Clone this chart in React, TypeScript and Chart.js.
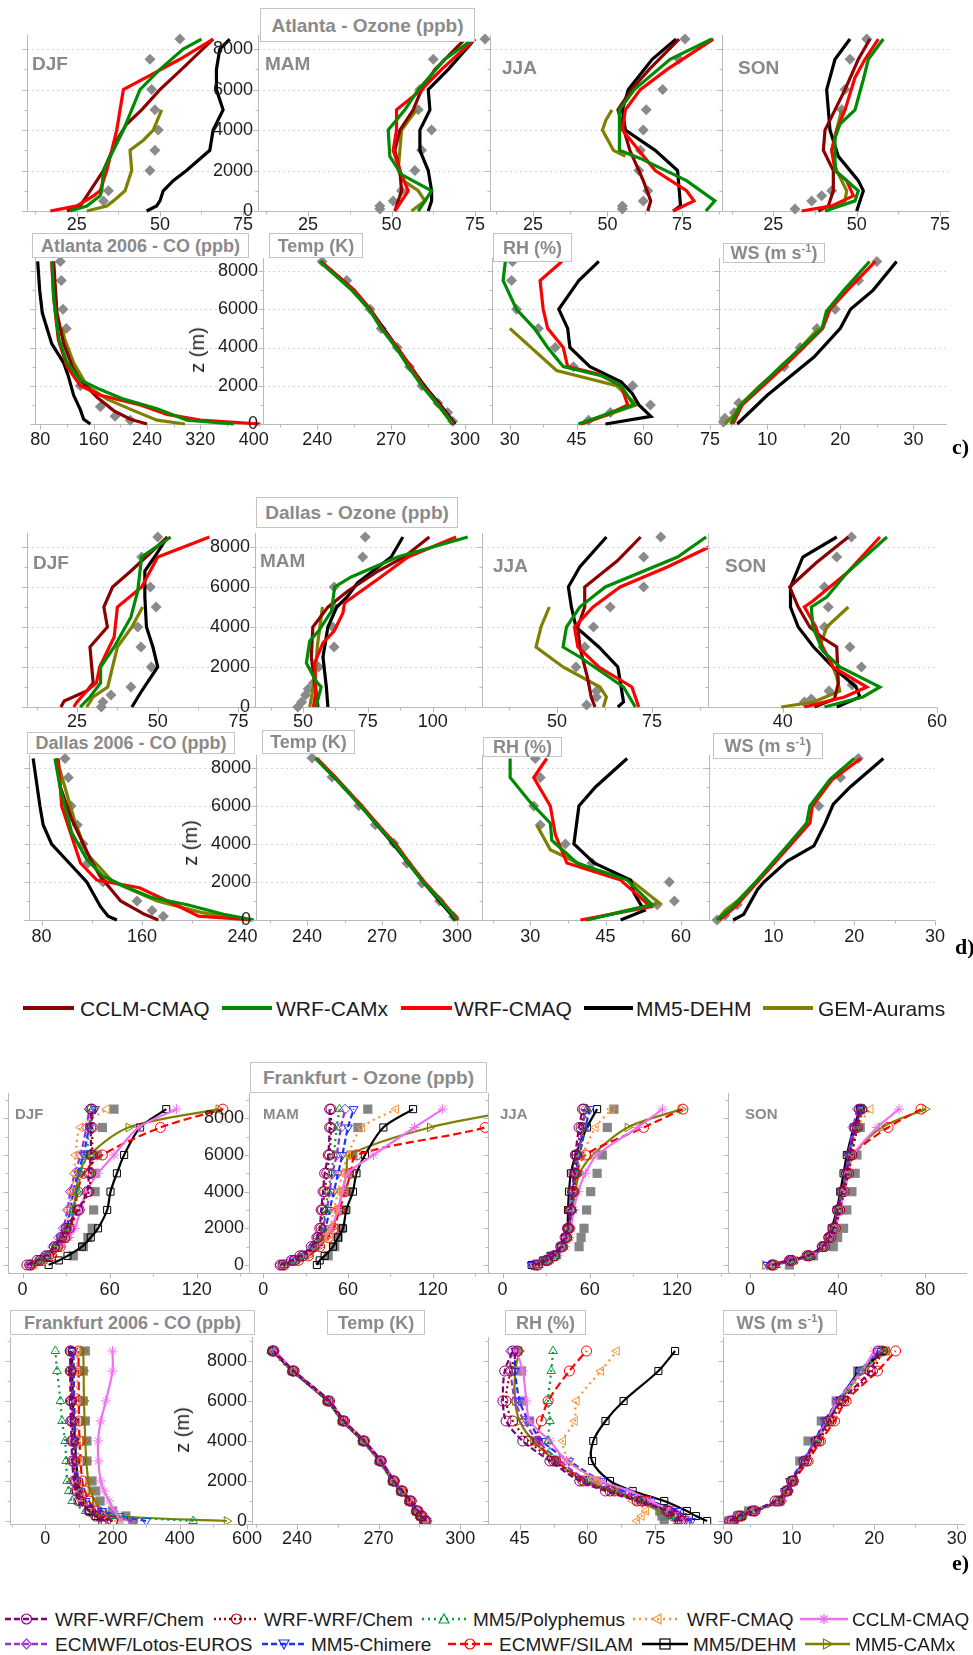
import React, { useEffect, useRef } from 'react';
import { Chart, registerables } from 'chart.js';
Chart.register(...registerables);

const FONT = '"Liberation Sans", Arial, Helvetica, sans-serif';
const SERIF = '"Liberation Serif", "Times New Roman", serif';

// ===================== DATA =====================
// pairs are [altitude (m), value]
type Pair = number[];

// ---- Atlanta ozone (ppb) ----
const atlDjfCCLM = [[0,22],[250,26],[1000,29],[2000,33],[3500,37],[4300,40],[5000,44.5],[6000,50],[7000,56.5],[8500,66]];
const atlDjfCAMx = [[0,23],[250,28],[750,32],[1000,32.5],[2000,33],[3000,36],[4000,39],[5000,41.5],[6000,44],[7000,50],[8000,57],[8500,62.5]];
const atlDjfCMAQ = [[0,17],[250,25],[750,30],[1000,32],[2000,34],[4000,37],[6000,39],[6700,47],[7500,56],[8500,66]];
const atlDjfDEHM = [[0,46],[250,49],[500,50],[1000,51],[1500,54],[2000,58],[3000,65],[4000,66],[5000,69],[6000,67],[7000,67],[8000,68],[8500,71]];
const atlDjfGEM = [[0,28],[250,34],[500,36],[1000,39.5],[2000,41.5],[3000,41],[3500,45],[4000,48],[5000,50.5]];
const atlDjfObs = [[500,33],[1000,34.5],[2000,47],[3000,48.5],[4000,49.5],[5000,48.5],[6000,47.5],[7500,47],[8500,56]];

const atlMamCCLM = [[0,51],[1000,53],[2000,52.5],[3000,51],[4000,52.5],[5000,56.5],[6000,59],[7000,63],[8500,72]];
const atlMamCAMx = [[0,58],[1000,62],[1800,53],[2700,49.5],[4000,49],[5000,54],[6000,58],[7500,66],[8500,74.5]];
const atlMamCMAQ = [[0,51],[1000,55],[2000,52.5],[3000,50.5],[4000,51.5],[5000,51.5],[6000,59],[7000,65],[8500,75]];
const atlMamDEHM = [[0,61],[500,62],[1000,62],[2000,61],[3000,58.5],[4000,58.5],[5000,61.5],[6000,61],[7000,67],[8500,75]];
const atlMamGEM = [[0,56],[500,60],[1000,58],[1500,53.5],[2000,52],[4000,53],[5000,57.5]];
const atlMamObs = [[100,46.5],[250,46.5],[500,50.5],[1000,53],[2000,57],[3000,59],[4000,62],[5000,58],[6000,58.5],[7500,62.5],[8500,78]];

const atlJjaCCLM = [[0,63.5],[500,64.5],[1500,62],[3000,57.5],[5000,53.5],[6000,58],[7000,64],[8500,74]];
const atlJjaCAMx = [[0,83],[500,86],[1500,76.5],[2600,61],[3000,54],[4000,54],[5000,54],[6000,59],[7500,71],[8500,85]];
const atlJjaCMAQ = [[0,72],[500,79],[1000,76.5],[2000,66],[4000,55],[5000,56],[6000,61],[7000,70],[8500,85.5]];
const atlJjaDEHM = [[0,72],[250,74.5],[2000,73.5],[3000,66],[4000,56],[5000,55],[6000,57],[7500,65],[8500,73]];
const atlJjaGEM = [[2700,56],[3000,52],[4000,48.3],[4500,49.5],[5000,51.5]];
const atlJjaObs = [[100,55],[250,55],[500,62],[1000,63.5],[2000,60.5],[3000,61],[4000,62],[5000,63],[6000,68.5],[7500,74],[8500,76]];

const atlSonCCLM = [[0,38.5],[250,41.5],[1000,43],[2000,43],[3000,40],[4000,40.5],[5000,43.5],[6000,46.5],[7500,50.5],[8500,54]];
const atlSonCAMx = [[0,40.5],[500,49.5],[1000,50.5],[2000,43.5],[3600,43.5],[4300,45],[5000,49.5],[6500,52],[7500,53.5],[8500,58]];
const atlSonCMAQ = [[0,33.5],[250,42.5],[750,49],[1500,47],[2000,43.5],[3000,42.5],[4000,44],[5000,46.5],[6600,49.5],[7500,52.5],[8500,56.5]];
const atlSonDEHM = [[0,50],[1000,52],[1500,50.5],[2700,44.5],[4000,42],[5000,41.5],[6000,41],[7500,43.5],[8500,48]];
const atlSonGEM = [[0,41],[500,46.5],[1000,47],[2000,44],[3000,42.5],[4000,44],[5000,45.5]];
const atlSonObs = [[100,31.5],[500,36.5],[750,39.5],[1000,42.5],[5000,45.5],[6000,46.5],[7500,48],[8500,53]];

// ---- Atlanta met ----
const atlCoCCLM = [[0,240],[250,215],[700,190],[1400,165],[2300,140],[3000,128],[4200,115],[5800,105],[8500,100]];
const atlCoCAMx = [[0,370],[200,300],[800,255],[1300,205],[1800,170],[2300,140],[3200,120],[4400,108],[6600,100],[8500,97.5]];
const atlCoCMAQ = [[0,410],[200,320],[500,270],[1000,230],[1500,170],[2000,140],[3000,120],[4400,107],[6600,100],[8500,97]];
const atlCoDEHM = [[0,155],[250,145],[750,140],[1500,130],[2500,122],[3200,115],[4200,97],[5800,83],[7000,79],[8500,76]];
const atlCoGEM = [[0,297],[200,255],[700,220],[1300,180],[2000,150],[3200,130],[4500,116],[5000,113]];
const atlCoObs = [[200,215],[400,192],[900,170],[2000,140],[5000,119],[6000,114],[7500,111.5],[8500,110]];

const atlTempCAMx = [[0,295],[1000,289],[2000,282.5],[3000,277],[4000,272],[5000,266],[6000,261],[7000,254],[8500,241]];
const atlTempCMAQ = [[0,295.5],[1000,289.5],[2000,283],[3000,278],[4000,272.5],[5000,266.5],[6000,261.5],[7000,255],[8500,241.5]];
const atlTempDEHM = [[0,296],[1000,290],[2000,283.5],[3000,278],[4000,272.5],[5000,267],[6000,261.5],[7000,255],[8500,241.5]];
const atlTempGEM = [[0,295],[1000,289],[2000,283],[3000,277.5],[4000,272],[5000,266.5]];
const atlTempObs = [[150,295],[600,293],[1100,289],[2000,282.5],[3000,277.5],[4000,272.5],[5000,266],[6000,261.5],[7500,252],[8500,242]];

const atlRhCAMx = [[0,45.4],[1000,57.8],[2000,55],[2500,51],[3000,42],[4000,38.5],[5000,35.5],[6000,31.5],[7500,28.5],[8500,29]];
const atlRhCMAQ = [[0,46],[500,52],[1000,56.5],[2000,55],[2600,50],[3000,43],[4000,42],[5000,38.5],[6000,37.5],[7500,36.8],[8500,41.7]];
const atlRhDEHM = [[0,51.5],[400,61.7],[1000,59],[1600,57.5],[2200,55],[3000,48],[4000,43.5],[5000,43],[6000,41],[7000,44],[7500,45.5],[8500,50]];
const atlRhGEM = [[0,46],[1000,58.5],[2000,54],[2800,40.5],[5000,30]];
const atlRhObs = [[200,47.7],[600,52.6],[1000,61.6],[2000,57.6],[3000,44.3],[4000,40.2],[5000,36.4],[6000,31.5],[7500,30.4],[8500,30.6]];

const atlWsCAMx = [[0,5],[1000,6.4],[3000,11.8],[5000,17.5],[5900,18.1],[7000,20.5],[8500,24]];
const atlWsCMAQ = [[0,5.3],[1000,6.6],[3000,12.3],[5000,17.6],[6000,18.6],[7000,21],[8500,24.8]];
const atlWsDEHM = [[0,5.9],[1500,10],[3500,16.4],[5000,20],[6000,21.4],[7000,24.5],[8500,27.7]];
const atlWsGEM = [[0,4.2],[500,5.5],[1000,6.3],[2000,9],[3000,12],[4000,14.6],[5000,17]];
const atlWsObs = [[100,4],[300,4.2],[600,5.5],[1100,6.1],[3000,12.3],[4000,14.5],[5000,16.8],[6000,19.3],[7500,22.5],[8500,25]];

// ---- Dallas ozone (ppb) ----
const dalDjfCCLM = [[0,20],[300,21],[800,28],[1200,30],[3000,29],[4000,34.4],[5000,33.3],[6000,36],[6800,41.7],[8500,53]];
const dalDjfCAMx = [[0,26],[500,29],[1200,32.3],[2000,32.3],[3000,36.5],[4500,41.7],[5800,43.8],[7500,45],[8500,54]];
const dalDjfCMAQ = [[0,24],[250,25],[800,28],[1200,31],[2000,32],[3500,36.5],[5000,37.5],[6000,45],[7500,50],[8500,66]];
const dalDjfDEHM = [[0,42],[800,45],[2000,50],[3000,48.5],[4000,46.5],[5500,46],[6800,46],[7500,49],[8500,53]];
const dalDjfGEM = [[0,28],[500,30],[1000,34.5],[2000,36],[3000,37.5],[4000,42],[5000,45.3]];
const dalDjfObs = [[0,32.5],[250,33],[600,35.5],[1000,41.7],[2000,48],[3000,44.8],[4000,43.8],[5000,49.5],[6000,47.7],[7500,45],[8500,50]];

const dalMamCCLM = [[0,55.8],[1200,54.5],[2500,53.2],[4000,53.8],[5000,59.6],[5800,67.3],[6800,79],[7500,89],[8500,98.7]];
const dalMamCAMx = [[0,55],[1000,57],[1300,55],[2200,51.3],[3300,52.6],[3800,56],[4800,61],[6000,62.2],[6500,68.6],[7500,86.5],[8500,113.5]];
const dalMamCMAQ = [[0,54],[800,55],[2200,54.5],[3200,57.7],[3800,62],[4700,65.4],[5200,66],[6500,80],[7500,90.5],[8500,109]];
const dalMamDEHM = [[0,59.6],[1000,59],[2500,57.7],[4000,59.6],[5000,63],[5500,67],[6200,71],[7500,84],[8500,88.5]];
const dalMamGEM = [[0,52.6],[1000,54],[2000,55],[3000,55.5],[4000,56.5],[5000,57.5]];
const dalMamObs = [[0,48],[250,49.5],[600,51],[900,52],[1200,54],[2000,56],[3000,62],[4000,61.5],[5000,62],[6000,62],[7500,73],[8500,74]];

const dalJjaCCLM = [[0,60],[500,59],[1500,58],[3000,56],[4000,55.5],[5000,57.3],[6000,57.3],[7300,65.8],[8500,72]];
const dalJjaCAMx = [[0,70.6],[1000,67.5],[2500,56],[3000,51.6],[4000,52.5],[5000,56],[6000,62.7],[7500,81.7],[8500,89.2]];
const dalJjaCMAQ = [[0,71.5],[1000,69.7],[2000,61],[3000,55.5],[4000,54.6],[5000,59.5],[6000,66.6],[7000,79],[8000,90]];
const dalJjaDEHM = [[0,66],[250,67.5],[2000,66],[3000,61],[4000,55],[5000,53.8],[6000,53],[7000,56],[8500,63]];
const dalJjaGEM = [[0,62.2],[500,63],[1000,61.3],[2000,51.6],[3000,44.5],[4000,45.8],[5000,48]];
const dalJjaObs = [[100,57.8],[500,60.4],[800,60.4],[2000,55],[3000,57.3],[4000,59.6],[5000,64],[6000,72.8],[7500,72.8],[8500,77.3]];

const dalSonCCLM = [[0,44.1],[400,46.7],[1200,47.2],[3000,47],[3500,45],[4000,43.5],[5000,42],[6000,40.9],[7200,44.3],[8500,48.5]];
const dalSonCAMx = [[0,45.4],[500,50.4],[1000,52.6],[2000,47.4],[2800,45.2],[4000,43.9],[5000,43.7],[5500,45.7],[6700,48.3],[8500,53.5]];
const dalSonCMAQ = [[0,42.8],[500,48],[1000,50.9],[2000,46.5],[3300,44.8],[4000,44.3],[5000,42.8],[5300,43.9],[6700,48.3],[8500,52.6]];
const dalSonDEHM = [[0,47],[500,50],[1000,49.5],[2000,46.5],[3000,44],[4000,42],[5000,41],[6000,41],[7500,42.6],[8500,47]];
const dalSonGEM = [[0,39.8],[250,44],[800,47.4],[1500,47],[2500,46],[3000,44.8],[4000,45.7],[5000,48.5]];
const dalSonObs = [[250,42.8],[400,43.7],[800,46],[1100,49],[2000,50.2],[3000,48.7],[4000,45.4],[5000,45.9],[6000,45.4],[7500,47],[8500,48.9]];

// ---- Dallas met ----
const dalCoCCLM = [[0,173],[300,162],[1000,143],[2300,126.7],[3200,119],[5300,104],[7000,95],[8500,92]];
const dalCoCAMx = [[0,249],[300,225],[800,196],[1200,167],[1800,145],[2300,129],[3200,116],[4600,104],[7000,94.7],[8500,90.7]];
const dalCoCMAQ = [[0,248],[200,205],[700,190],[1700,158],[2100,124],[3000,111],[4200,105],[6000,96],[8500,93.3]];
const dalCoDEHM = [[0,140],[200,133],[700,127],[2000,116],[3000,102],[4000,88],[5000,81.3],[6000,78.7],[8500,73.3]];
const dalCoGEM = [[0,244],[400,207],[1000,172],[2000,137],[3500,116],[5300,106],[8500,92]];
const dalCoObs = [[200,177],[500,168],[1000,156],[2000,129],[3000,117],[4000,113],[5000,108.5],[6000,103.5],[7500,101.3],[8500,98.7]];

const dalTempCAMx = [[0,300],[1000,293.5],[2000,286.5],[3000,280.5],[4000,275],[5000,268],[6000,261.5],[7500,251],[8500,243.5]];
const dalTempCMAQ = [[0,300.5],[1000,294],[2000,287],[3000,281],[4000,275.5],[5000,268.5],[6000,262],[7500,251.5],[8500,244]];
const dalTempDEHM = [[0,299.5],[1000,293],[2000,286.5],[3000,280.5],[4000,274.5],[5000,268],[6000,261.5],[7500,251],[8500,243.5]];
const dalTempGEM = [[0,300],[1000,293.5],[2000,286.5],[3000,280.5],[4000,275],[5000,268]];
const dalTempObs = [[175,298.7],[1000,293],[1930,286],[2990,280],[4040,274.7],[5010,267.3],[6010,260.7],[7520,250],[8520,242]];

const dalRhCAMx = [[0,41.3],[800,54.3],[2100,49.3],[3000,39.3],[4200,34.3],[5100,34],[6200,30],[7500,26],[8500,26]];
const dalRhCMAQ = [[0,40],[700,54],[2100,48],[3000,37.3],[4500,35],[6000,34],[7500,30.7],[8500,33.3]];
const dalRhDEHM = [[0,48],[500,52.7],[1400,50.7],[2100,50],[3000,42.7],[4000,38.7],[6000,39.7],[7000,43],[8500,49.3]];
const dalRhGEM = [[0,41],[900,55.7],[2100,50],[2800,41],[3700,34],[5000,31.3]];
const dalRhObs = [[800,55.3],[1000,58.7],[2000,57.7],[3000,42.3],[4000,37],[5000,32],[6000,30.7],[7500,32],[8500,31]];

const dalWsCAMx = [[0,3],[700,5],[2100,8],[3900,11.7],[5100,14.1],[6000,14.5],[7400,17],[8500,20]];
const dalWsCMAQ = [[0,3.3],[700,5.3],[2100,8.2],[3900,12],[5100,14.5],[6000,14.8],[7400,17.3],[8500,20.8]];
const dalWsDEHM = [[0,5],[300,6.3],[1600,8],[2000,8.8],[3100,11.7],[3900,15],[5100,16.4],[6100,17.4],[7000,19.5],[8500,23.6]];
const dalWsGEM = [[0,3],[500,4],[1000,5.5],[2000,7.8],[3000,10]];
const dalWsObs = [[0,3],[250,4],[800,5.5],[6000,15.6],[7500,18.3],[8500,20.5]];

// ---- Frankfurt (values at FRA_LEVELS) ----
const FRA_LEVELS = [0, 250, 500, 1000, 1500, 2000, 3000, 4000, 5000, 6000, 7500, 8500];
// order: WRF-WRF/Chem(a), WRF-WRF/Chem(b), MM5/Polyphemus, WRF-CMAQ, CCLM-CMAQ, ECMWF/Lotos-EUROS, MM5-Chimere, ECMWF/SILAM, MM5/DEHM, MM5-CAMx, obs
const fraDjfChemA = [3,10,16,22,27,30,38,44.6,45.7,47,47,47];
const fraDjfChemB = [5,12,18,24,29,32,39,45.7,47,48,48,48];
const fraDjfPoly = [6,12,17,23,27,31,35,38,40,44,46,48];
const fraDjfWcmaq = [8,14,18,25,28,30,32,34,35.5,36.5,40,58];
const fraDjfCclm = [4,12,18,26,32,36,40,44,52,63,80,106];
const fraDjfLotos = [5,11,15,21,25,28,31,33,36,40,44,46];
const fraDjfChim = [6,12,16,22,26,30,33,35,38,42,46,50];
const fraDjfSilam = [6,14,20,26,30,33,36,38,42,55,95,138];
const fraDjfDehm = [18,25,31,41,47,52,58.3,60.6,65,70,81,99];
const fraDjfCamx = [8,15,20,26,30,33,35,37,39,46,73,135];
const fraDjfObs = [null,null,35,42,45,48,49,50,50,51.5,55,63];

const fraMamChemA = [12,20,26,34,38,40,41,42.4,43.5,46,47,47];
const fraMamChemB = [14,22,28,36,39,41,42,43.5,45,47,48,48];
const fraMamPoly = [15,23,29,36,40,42,44,46,48,50,52,54];
const fraMamWcmaq = [15,24,30,38,43,47,50,53,56,60,70,94];
const fraMamCclm = [14,22,30,38,44,48,53,56,60,78,107,127];
const fraMamLotos = [12,20,27,35,39,42,45,47,49,52,55,58];
const fraMamChim = [14,22,28,36,41,44,47,50,53,56,60,64];
const fraMamSilam = [15,25,32,40,46,50,54,58,62,66,157,185];
const fraMamDehm = [38,40,43.5,49.4,53,56.5,58.8,63.5,66,72,85,106];
const fraMamCamx = [16,25,32,40,45,49,53,56,59,61,118,185];
const fraMamObs = [null,null,46,50.6,53,55.3,57.6,60,61,63.5,67,74];

const fraJjaChemA = [22,30,35,40,43,44.6,46.4,48,49,50,52.6,55];
const fraJjaChemB = [24,31,36,41,44,45.5,47,49,50,51,54,56];
const fraJjaPoly = [25,32,37,42,45,46,48,49,51,53,56,58];
const fraJjaWcmaq = [25,32,37,42,45,46,47,49,51,55,64,75];
const fraJjaCclm = [25,33,38,43,46,47,49,52,57,65,93,110];
const fraJjaLotos = [22,30,35,41,44,45,47,48,50,52,55,57];
const fraJjaChim = [20,28,34,40,44,46,47,48,50,53,57,60];
const fraJjaSilam = [24,30,36,41,44,46,47,49,51,57,97,124];
const fraJjaDehm = [20,28,33,40,43,44.6,45,45.7,47,50.3,58,65];
const fraJjaCamx = [24,32,36,42,45,46,48,50,53,62,86,123];
const fraJjaObs = [null,null,null,52.6,54,56,57.8,60.6,65,68.6,72,76.6];

const fraSonChemA = [10,18,26,33,36,38,40,42,44,45.5,48,50];
const fraSonChemB = [11,19,27,34,37,39,41,43,45,46.5,49,51];
const fraSonPoly = [12,20,27,33,36,38,40,42,44,46,49,52];
const fraSonWcmaq = [10,20,27,33,36,38,40,42.5,44.5,46,49,55];
const fraSonCclm = [10,20,28,34,37,39,41,43,45,47,58,68];
const fraSonLotos = [11,19,26,33,36,38,40,42,44,45,47,49];
const fraSonChim = [8,18,26,33,36,38,40,42,44,45,48,51];
const fraSonSilam = [10,19,27,33,36,38,40,42,44,46.5,63,78];
const fraSonDehm = [10,20,28,34,36,37.3,39.6,41.2,42.7,44.2,47.3,50.3];
const fraSonCamx = [7,18,26,33,36,38,40,42,44,47,60,80];
const fraSonObs = [18,null,29,38,40,42.7,44.2,46.5,48,48.8,50.3,50.3];

const fraCoChemA = [180,150,130,100,90,85,80,78,76,75,74,74];
const fraCoChemB = [200,160,135,105,95,90,85,82,80,78,77,76];
const fraCoPoly = [440,200,120,80,70,65,62,59,50,45,35,30];
const fraCoWcmaq = [220,170,140,110,105,100,98,96,95,95,94,94];
const fraCoCclm = [225,215,205,190,175,165,158,157,165,180,200,200];
const fraCoLotos = [260,190,150,110,95,90,86,84,82,80,79,78];
const fraCoChim = [300,220,170,120,105,98,92,90,88,86,85,84];
const fraCoSilam = [200,170,150,130,118,110,105,102,100,100,99,99];
const fraCoDehm = [170,150,130,110,102,97,92,88,85,82,80,80];
const fraCoCamx = [540,200,170,148,135,128,122,119,117,115,114,113];
const fraCoObs = [261,240,200,163,150,139,124,124,119,113,113,119];

const fraTChemA = [287.5,286,284.5,282,278.8,275.8,271,264.8,257.5,252,239,231.5];
const fraTChemB = [287,285.5,284,281.5,278.5,275.5,270.7,264.5,257,251.5,238.5,231];
const fraTPoly = [286.5,285,283.5,281,278,275,270,264,256.5,251,238,230.5];
const fraTWcmaq = [287.5,286,284.3,281.8,278.6,275.6,270.8,264.6,257.2,251.8,238.8,231.4];
const fraTCclm = [288,286.5,285,282.5,279,276,271,265,257.5,252,239,232];
const fraTLotos = [286.8,285.3,283.8,281.3,278.2,275.2,270.3,264.2,256.8,251.2,238.3,231];
const fraTChim = [287.2,285.7,284.2,281.7,278.4,275.4,270.6,264.4,257,251.5,238.6,231.3];
const fraTSilam = [287,285.4,283.9,281.4,278.3,275.3,270.5,264.3,256.9,251.4,238.5,231.2];
const fraTDehm = [286.9,285.3,283.8,281.3,278.1,275.1,270.3,264.1,256.7,251.2,238.3,231];
const fraTCamx = [287.3,285.8,284.2,281.7,278.5,275.5,270.6,264.5,257.1,251.6,238.7,231.4];
const fraTObs = [287.1,285.5,284,281.5,278.3,275.3,270.5,264.3,256.9,251.4,238.5,231.2];

const fraRhChemA = [80.6,79,77.6,71,64,58.3,51.7,45.7,42,41.3,41.7,43.5];
const fraRhChemB = [81,79.5,78,72,65,59,52.5,47,43.5,42,43,44.5];
const fraRhPoly = [80,78.5,77,72,66,60,53,51.3,51.7,51.3,52,52.4];
const fraRhWcmaq = [71,72,73,70,66,62,56,54.6,57.2,57.6,63,66.5];
const fraRhCclm = [81,79.5,78,74,69.4,63,55.4,51.7,47.2,46.5,45.7,44.3];
const fraRhLotos = [82,80,79,72,66,60,54,49,46,44,43,43];
const fraRhChim = [83,81,80,74,68,63,56,50,47,45,44,44];
const fraRhSilam = [82,80,78,73,66,60,53,49,49.8,51.3,56,59.8];
const fraRhDehm = [86.5,84,82,77,70,65,61,61.3,64,68,75.7,79.4];
const fraRhCamx = [80,78,76,71,65,59,53,48,45,44,44,45];
const fraRhObs = [77,76.5,76,73,67,62,53.1,48.7,47.2,45.7,45.4,44.6];

const fraWsChemA = [2.5,3.5,5.2,8,9.3,10,11.5,13,14.5,16,19.5,20.5];
const fraWsChemB = [2.8,3.8,5.5,8.3,9.5,10.2,11.8,13.3,14.8,16.3,19.8,21];
const fraWsPoly = [3,4,5.6,8.5,9.4,10,11.6,13,14.4,15.8,18.5,21];
const fraWsWcmaq = [2.6,3.6,5.3,8.2,9.3,10,11.7,13.2,14.6,16,19,21.5];
const fraWsCclm = [2.5,3.5,5.2,8.4,9.4,10,11.6,13,14.3,15.6,18.5,20];
const fraWsLotos = [2.7,3.7,5.4,8.8,9.6,10.1,11.5,12.8,14.2,15.5,18.4,20.5];
const fraWsChim = [3,4,5.6,8.5,9.2,9.8,11.4,12.8,14,15.6,18.3,20.6];
const fraWsSilam = [3,4,5.6,8.6,9.5,10.2,12,13.5,15.2,16.6,20.4,22.6];
const fraWsDehm = [3,4,5.2,8.6,9.5,10,11.6,13,14.2,15.8,18.2,21.4];
const fraWsCamx = [2.8,3.8,5.4,8.5,9.4,10,11.6,13.1,14.4,15.9,18.6,21.2];
const fraWsObs = [2.4,3.5,4.8,8.6,9.5,10.2,11,12,13.6,15.4,18,21.2];

// ---- tick labels ----
const ALT_LABELS = [0, 2000, 4000, 6000, 8000];
const TICKS_O3 = [25, 50, 75];

// ===================== STYLES / BUILDERS =====================
const CD_COLORS: Record<string, string> = { cclm: '#8B0000', camx: '#008A00', cmaq: '#FF0000', dehm: '#000000', gem: '#7F7F00' };
const pts = (p: Pair[]) => p.map(([a, v]) => ({ x: v, y: a }));

function cdSets(s: any) {
  const out: any[] = [];
  for (const k of ['camx', 'cmaq', 'cclm', 'dehm', 'gem']) {
    if (s[k]) out.push({ data: pts(s[k]), borderColor: CD_COLORS[k], borderWidth: 3.2, pointRadius: 0, tension: 0, fill: false, clip: false });
  }
  if (s.obs) out.push({ data: pts(s.obs), showLine: false, pointStyle: 'rectRot', pointRadius: 5.5, pointBackgroundColor: '#8a8a8a', pointBorderColor: '#8a8a8a', pointBorderWidth: 0, clip: false });
  return out;
}

const FRA_STYLES = [
  { color: '#800080', dash: [6, 3], ps: 'circle', rot: 0 },
  { color: '#A00000', dash: [2, 3], ps: 'circle', rot: 0 },
  { color: '#00A040', dash: [2, 4], ps: 'triangle', rot: 0 },
  { color: '#FF9030', dash: [2, 4], ps: 'triangle', rot: -90 },
  { color: '#F070F0', dash: [], ps: 'star', rot: 0 },
  { color: '#9933CC', dash: [6, 3], ps: 'rectRot', rot: 0 },
  { color: '#2030FF', dash: [6, 3], ps: 'triangle', rot: 180 },
  { color: '#FF0000', dash: [8, 4], ps: 'circle', rot: 0 },
  { color: '#000000', dash: [], ps: 'rect', rot: 0 },
  { color: '#808000', dash: [], ps: 'triangle', rot: 90 },
];
const fpts = (vals: any[]) => FRA_LEVELS.map((a, i) => (vals[i] == null ? null : { x: vals[i], y: a })).filter(Boolean);

function fraSets(series: any[], obs: any[]) {
  const out: any[] = series.map((vals, i) => {
    const st = FRA_STYLES[i];
    return {
      data: fpts(vals), borderColor: st.color, borderWidth: 2.2, borderDash: st.dash, tension: 0.3, fill: false,
      pointStyle: st.ps, pointRotation: st.rot, pointRadius: 5, pointBorderColor: st.color, pointBorderWidth: 1,
      pointBackgroundColor: 'rgba(255,255,255,0)',
    };
  });
  out.push({ data: fpts(obs), showLine: false, pointStyle: 'rect', pointRadius: 6.5, pointBackgroundColor: 'rgba(120,120,120,0.9)', pointBorderColor: 'rgba(120,120,120,0.9)', pointBorderWidth: 0 });
  return out;
}

// ===================== LAYOUT =====================
const ROWS: any = {
  c1: { top: 35, bottom: 211, yMin: 0, yMax: 8700, labelDy: 14, grid: true },
  c2: { top: 258, bottom: 424, yMin: 0, yMax: 8680, labelDy: 16, grid: true },
  d1: { top: 533, bottom: 707, yMin: 0, yMax: 8700, labelDy: 15, grid: true },
  d2: { top: 755, bottom: 920, yMin: 0, yMax: 8684, labelDy: 17, grid: true },
  e1: { top: 1093, bottom: 1273, yMin: -436, yMax: 9380, labelDy: 17, grid: false },
  e2: { top: 1337, bottom: 1524, yMin: -150, yMax: 9200, labelDy: 15, grid: false },
};

function panel(row: string, x0: number, x1: number, xMin: number, xMax: number, xTicks: number[], datasets: any[], yLabels = false) {
  return { ...ROWS[row], x0, x1, xMin, xMax, xTicks, datasets, yLabels };
}

const PANELS = [
  // Atlanta ozone
  panel('c1', 27, 253, 10, 78, TICKS_O3, cdSets({ cclm: atlDjfCCLM, camx: atlDjfCAMx, cmaq: atlDjfCMAQ, dehm: atlDjfDEHM, gem: atlDjfGEM, obs: atlDjfObs })),
  panel('c1', 258, 490, 10, 79.5, TICKS_O3, cdSets({ cclm: atlMamCCLM, camx: atlMamCAMx, cmaq: atlMamCMAQ, dehm: atlMamDEHM, gem: atlMamGEM, obs: atlMamObs }), true),
  panel('c1', 490, 722, 10.6, 88.4, TICKS_O3, cdSets({ cclm: atlJjaCCLM, camx: atlJjaCAMx, cmaq: atlJjaCMAQ, dehm: atlJjaDEHM, gem: atlJjaGEM, obs: atlJjaObs })),
  panel('c1', 722, 950, 9.6, 78, TICKS_O3, cdSets({ cclm: atlSonCCLM, camx: atlSonCAMx, cmaq: atlSonCMAQ, dehm: atlSonDEHM, gem: atlSonGEM, obs: atlSonObs })),
  // Atlanta met
  panel('c2', 35, 263, 72, 414, [80, 160, 240, 320, 400], cdSets({ cclm: atlCoCCLM, camx: atlCoCAMx, cmaq: atlCoCMAQ, dehm: atlCoDEHM, gem: atlCoGEM, obs: atlCoObs })),
  panel('c2', 263, 492, 218, 311, [240, 270, 300], cdSets({ camx: atlTempCAMx, cmaq: atlTempCMAQ, dehm: atlTempDEHM, gem: atlTempGEM, obs: atlTempObs }), true),
  panel('c2', 492, 719, 26, 77, [30, 45, 60, 75], cdSets({ camx: atlRhCAMx, cmaq: atlRhCMAQ, dehm: atlRhDEHM, gem: atlRhGEM, obs: atlRhObs })),
  panel('c2', 719, 947, 3.4, 34.6, [10, 20, 30], cdSets({ camx: atlWsCAMx, cmaq: atlWsCMAQ, dehm: atlWsDEHM, gem: atlWsGEM, obs: atlWsObs })),
  // Dallas ozone
  panel('d1', 27, 253, 9.5, 79.5, TICKS_O3, cdSets({ cclm: dalDjfCCLM, camx: dalDjfCAMx, cmaq: dalDjfCMAQ, dehm: dalDjfDEHM, gem: dalDjfGEM, obs: dalDjfObs })),
  panel('d1', 255, 482, 31.5, 119, [50, 75, 100], cdSets({ cclm: dalMamCCLM, camx: dalMamCAMx, cmaq: dalMamCMAQ, dehm: dalMamDEHM, gem: dalMamGEM, obs: dalMamObs }), true),
  panel('d1', 482, 708, 30.3, 89.7, [50, 75], cdSets({ cclm: dalJjaCCLM, camx: dalJjaCAMx, cmaq: dalJjaCMAQ, dehm: dalJjaDEHM, gem: dalJjaGEM, obs: dalJjaObs })),
  panel('d1', 708, 937, 30.3, 60, [40, 60], cdSets({ cclm: dalSonCCLM, camx: dalSonCAMx, cmaq: dalSonCMAQ, dehm: dalSonDEHM, gem: dalSonGEM, obs: dalSonObs })),
  // Dallas met
  panel('d2', 29, 255, 70, 250, [80, 160, 240], cdSets({ cclm: dalCoCCLM, camx: dalCoCAMx, cmaq: dalCoCMAQ, dehm: dalCoDEHM, gem: dalCoGEM, obs: dalCoObs })),
  panel('d2', 256, 482, 219.6, 310, [240, 270, 300], cdSets({ camx: dalTempCAMx, cmaq: dalTempCMAQ, dehm: dalTempDEHM, gem: dalTempGEM, obs: dalTempObs }), true),
  panel('d2', 482, 709, 20.4, 65.6, [30, 45, 60], cdSets({ camx: dalRhCAMx, cmaq: dalRhCMAQ, dehm: dalRhDEHM, gem: dalRhGEM, obs: dalRhObs })),
  panel('d2', 709, 935, 2, 30, [10, 20, 30], cdSets({ camx: dalWsCAMx, cmaq: dalWsCMAQ, dehm: dalWsDEHM, gem: dalWsGEM, obs: dalWsObs })),
  // Frankfurt ozone
  panel('e1', 8, 249, -10, 156, [0, 60, 120], fraSets([fraDjfChemA, fraDjfChemB, fraDjfPoly, fraDjfWcmaq, fraDjfCclm, fraDjfLotos, fraDjfChim, fraDjfSilam, fraDjfDehm, fraDjfCamx], fraDjfObs)),
  panel('e1', 249, 488, -10, 159, [0, 60, 120], fraSets([fraMamChemA, fraMamChemB, fraMamPoly, fraMamWcmaq, fraMamCclm, fraMamLotos, fraMamChim, fraMamSilam, fraMamDehm, fraMamCamx], fraMamObs), true),
  panel('e1', 488, 728, -10, 155, [0, 60, 120], fraSets([fraJjaChemA, fraJjaChemB, fraJjaPoly, fraJjaWcmaq, fraJjaCclm, fraJjaLotos, fraJjaChim, fraJjaSilam, fraJjaDehm, fraJjaCamx], fraJjaObs)),
  panel('e1', 728, 967, -10, 99, [0, 40, 80], fraSets([fraSonChemA, fraSonChemB, fraSonPoly, fraSonWcmaq, fraSonCclm, fraSonLotos, fraSonChim, fraSonSilam, fraSonDehm, fraSonCamx], fraSonObs)),
  // Frankfurt met
  panel('e2', 10, 252, -105, 615, [0, 200, 400, 600], fraSets([fraCoChemA, fraCoChemB, fraCoPoly, fraCoWcmaq, fraCoCclm, fraCoLotos, fraCoChim, fraCoSilam, fraCoDehm, fraCoCamx], fraCoObs)),
  panel('e2', 252, 488, 223.5, 310.2, [240, 270, 300], fraSets([fraTChemA, fraTChemB, fraTPoly, fraTWcmaq, fraTCclm, fraTLotos, fraTChim, fraTSilam, fraTDehm, fraTCamx], fraTObs), true),
  panel('e2', 488, 723, 38, 90, [45, 60, 75, 90], fraSets([fraRhChemA, fraRhChemB, fraRhPoly, fraRhWcmaq, fraRhCclm, fraRhLotos, fraRhChim, fraRhSilam, fraRhDehm, fraRhCamx], fraRhObs)),
  panel('e2', 723, 965, 1.7, 31, [10, 20, 30], fraSets([fraWsChemA, fraWsChemB, fraWsPoly, fraWsWcmaq, fraWsCclm, fraWsLotos, fraWsChim, fraWsSilam, fraWsDehm, fraWsCamx], fraWsObs)),
];

const PADL = 70, PADR = 30, PADT = 12, PADB = 36;

function makeFrame(cfg: any) {
  return {
    id: 'frame',
    beforeDatasetsDraw(chart: any) {
      const { ctx, chartArea: a } = chart;
      const xs = chart.scales.x, ys = chart.scales.y;
      ctx.save();
      if (cfg.grid) {
        ctx.strokeStyle = '#d6d6d6'; ctx.lineWidth = 1; ctx.setLineDash([2, 3]);
        for (const g of [2000, 4000, 6000, 8000]) {
          const py = Math.round(ys.getPixelForValue(g)) + 0.5;
          ctx.beginPath(); ctx.moveTo(a.left, py); ctx.lineTo(a.right, py); ctx.stroke();
        }
        ctx.setLineDash([]);
      }
      ctx.strokeStyle = '#b9b9b9'; ctx.lineWidth = 1;
      const lx = Math.round(a.left) + 0.5, by = Math.round(a.bottom) + 0.5;
      ctx.beginPath(); ctx.moveTo(lx, a.top); ctx.lineTo(lx, by); ctx.lineTo(a.right, by); ctx.stroke();
      for (let v = 0; v <= cfg.yMax; v += 1000) {
        const py = Math.round(ys.getPixelForValue(v)) + 0.5;
        const len = v % 2000 === 0 ? 5 : 3;
        ctx.beginPath(); ctx.moveTo(lx - len, py); ctx.lineTo(lx, py); ctx.stroke();
      }
      const step = cfg.xTicks.length > 1 ? cfg.xTicks[1] - cfg.xTicks[0] : 10;
      for (let k = -20; k <= 40; k++) {
        const v = cfg.xTicks[0] + (k * step) / 2;
        if (v < cfg.xMin || v > cfg.xMax) continue;
        const px = Math.round(xs.getPixelForValue(v)) + 0.5;
        ctx.beginPath(); ctx.moveTo(px, by); ctx.lineTo(px, by + (k % 2 === 0 ? 5 : 3)); ctx.stroke();
      }
      ctx.restore();
    },
    afterDraw(chart: any) {
      const { ctx, chartArea: a } = chart;
      const xs = chart.scales.x, ys = chart.scales.y;
      ctx.save();
      ctx.font = `18px ${FONT}`;
      ctx.fillStyle = '#1c1c1c';
      ctx.textAlign = 'center'; ctx.textBaseline = 'middle';
      for (const v of cfg.xTicks) ctx.fillText(String(v), xs.getPixelForValue(v), a.bottom + cfg.labelDy);
      if (cfg.yLabels) {
        ctx.textAlign = 'right';
        for (const v of ALT_LABELS) ctx.fillText(String(v), a.left - 5, ys.getPixelForValue(v));
      }
      ctx.restore();
    },
  };
}

function Panel({ cfg }: { cfg: any }) {
  const ref = useRef<HTMLCanvasElement | null>(null);
  const w = cfg.x1 - cfg.x0 + PADL + PADR;
  const h = cfg.bottom - cfg.top + PADT + PADB;
  useEffect(() => {
    if (!ref.current) return;
    const datasets = cfg.datasets.map((d: any) => ({ ...d, data: d.data.map((p: any) => ({ ...p })) }));
    const chart = new Chart(ref.current, {
      type: 'line',
      data: { datasets },
      options: {
        animation: false,
        responsive: false,
        devicePixelRatio: 1,
        events: [],
        layout: { padding: { left: PADL, right: PADR, top: PADT, bottom: PADB } },
        plugins: { legend: { display: false }, tooltip: { enabled: false } },
        scales: {
          x: { type: 'linear', display: false, min: cfg.xMin, max: cfg.xMax },
          y: { type: 'linear', display: false, min: cfg.yMin, max: cfg.yMax },
        },
      } as any,
      plugins: [makeFrame(cfg)],
    });
    return () => chart.destroy();
  }, [cfg]);
  return <canvas ref={ref} width={w} height={h} style={{ position: 'absolute', left: cfg.x0 - PADL, top: cfg.top - PADT, width: w, height: h }} />;
}

// ===================== TEXT ELEMENTS =====================
const TITLE_BOXES = [
  { t: 'Atlanta - Ozone (ppb)', x: 260, y: 8, w: 215, h: 34, fs: 19 },
  { t: 'Atlanta 2006 - CO (ppb)', x: 32, y: 233, w: 217, h: 25, fs: 18 },
  { t: 'Temp (K)', x: 269, y: 233, w: 94, h: 25, fs: 18 },
  { t: 'RH (%)', x: 493, y: 233, w: 79, h: 29, fs: 18 },
  { t: 'WS', x: 723, y: 243, w: 102, h: 20, fs: 18, ws: true },
  { t: 'Dallas - Ozone (ppb)', x: 256, y: 497, w: 202, h: 31, fs: 19 },
  { t: 'Dallas 2006 - CO (ppb)', x: 27, y: 732, w: 208, h: 22, fs: 18 },
  { t: 'Temp (K)', x: 262, y: 730, w: 93, h: 24, fs: 18 },
  { t: 'RH (%)', x: 483, y: 737, w: 79, h: 20, fs: 18 },
  { t: 'WS', x: 713, y: 733, w: 110, h: 26, fs: 18, ws: true },
  { t: 'Frankfurt - Ozone (ppb)', x: 250, y: 1062, w: 237, h: 31, fs: 19 },
  { t: 'Frankfurt 2006 - CO (ppb)', x: 10, y: 1310, w: 245, h: 25, fs: 18 },
  { t: 'Temp (K)', x: 327, y: 1310, w: 98, h: 25, fs: 18 },
  { t: 'RH (%)', x: 505, y: 1310, w: 81, h: 25, fs: 18 },
  { t: 'WS', x: 723, y: 1310, w: 114, h: 25, fs: 18, ws: true },
];

const SEASONS = [
  { t: 'DJF', x: 32, y: 63, fs: 19 }, { t: 'MAM', x: 265, y: 63, fs: 19 }, { t: 'JJA', x: 502, y: 67, fs: 19 }, { t: 'SON', x: 738, y: 67, fs: 19 },
  { t: 'DJF', x: 33, y: 562, fs: 19 }, { t: 'MAM', x: 260, y: 560, fs: 19 }, { t: 'JJA', x: 493, y: 565, fs: 19 }, { t: 'SON', x: 725, y: 565, fs: 19 },
  { t: 'DJF', x: 15, y: 1113, fs: 15 }, { t: 'MAM', x: 263, y: 1113, fs: 15 }, { t: 'JJA', x: 500, y: 1113, fs: 15 }, { t: 'SON', x: 745, y: 1113, fs: 15 },
];

const Z_LABELS = [{ x: 197, y: 350 }, { x: 190, y: 843 }, { x: 182, y: 1430 }];
const LETTERS = [{ t: 'c)', x: 952, y: 447 }, { t: 'd)', x: 955, y: 947 }, { t: 'e)', x: 952, y: 1563 }];

const MID_LEGEND = [
  { t: 'CCLM-CMAQ', c: '#8B0000', l0: 23, l1: 74, tx: 80 },
  { t: 'WRF-CAMx', c: '#008A00', l0: 222, l1: 272, tx: 276 },
  { t: 'WRF-CMAQ', c: '#FF0000', l0: 401, l1: 452, tx: 454 },
  { t: 'MM5-DEHM', c: '#000000', l0: 584, l1: 633, tx: 636 },
  { t: 'GEM-Aurams', c: '#7F7F00', l0: 763, l1: 813, tx: 818 },
];

const BOTTOM_LEGEND = [
  { t: 'WRF-WRF/Chem', s: 0, l0: 5, l1: 48, tx: 55, y: 1619 },
  { t: 'WRF-WRF/Chem', s: 1, l0: 214, l1: 259, tx: 264, y: 1619 },
  { t: 'MM5/Polyphemus', s: 2, l0: 422, l1: 466, tx: 473, y: 1619 },
  { t: 'WRF-CMAQ', s: 3, l0: 633, l1: 681, tx: 687, y: 1619 },
  { t: 'CCLM-CMAQ', s: 4, l0: 800, l1: 848, tx: 852, y: 1619 },
  { t: 'ECMWF/Lotos-EUROS', s: 5, l0: 5, l1: 48, tx: 55, y: 1644 },
  { t: 'MM5-Chimere', s: 6, l0: 262, l1: 306, tx: 311, y: 1644 },
  { t: 'ECMWF/SILAM', s: 7, l0: 448, l1: 492, tx: 499, y: 1644 },
  { t: 'MM5/DEHM', s: 8, l0: 642, l1: 688, tx: 693, y: 1644 },
  { t: 'MM5-CAMx', s: 9, l0: 805, l1: 850, tx: 855, y: 1644 },
];

function Marker({ ps, rot, cx, cy, color }: any) {
  const r = 5;
  const common = { fill: 'none', stroke: color, strokeWidth: 1.2 };
  if (ps === 'circle') return <circle cx={cx} cy={cy} r={r} {...common} />;
  if (ps === 'rect') return <rect x={cx - r} y={cy - r} width={2 * r} height={2 * r} {...common} />;
  if (ps === 'rectRot') return <polygon points={`${cx},${cy - r} ${cx + r},${cy} ${cx},${cy + r} ${cx - r},${cy}`} {...common} />;
  if (ps === 'star') {
    return (
      <g stroke={color} strokeWidth={1.4}>
        <line x1={cx - r} y1={cy} x2={cx + r} y2={cy} />
        <line x1={cx} y1={cy - r} x2={cx} y2={cy + r} />
        <line x1={cx - 3.5} y1={cy - 3.5} x2={cx + 3.5} y2={cy + 3.5} />
        <line x1={cx - 3.5} y1={cy + 3.5} x2={cx + 3.5} y2={cy - 3.5} />
      </g>
    );
  }
  return (
    <g transform={`rotate(${rot} ${cx} ${cy})`}>
      <polygon points={`${cx},${cy - r} ${cx + r},${cy + 4} ${cx - r},${cy + 4}`} {...common} />
    </g>
  );
}

export default function App() {
  return (
    <div style={{ position: 'absolute', left: 0, top: 0, width: 973, height: 1655, background: '#fff', overflow: 'hidden', fontFamily: FONT }}>
      {PANELS.map((p, i) => <Panel key={i} cfg={p} />)}
      {TITLE_BOXES.map((b, i) => (
        <div key={'tb' + i} style={{ position: 'absolute', left: b.x, top: b.y, width: b.w, height: b.h, boxSizing: 'border-box', border: '1px solid #c4c4c4', background: '#fff', display: 'flex', alignItems: 'center', justifyContent: 'center', fontWeight: 'bold', fontSize: b.fs, color: '#8a8a8a', whiteSpace: 'nowrap', lineHeight: 1 }}>
          {b.ws ? <span>WS (m s<sup style={{ fontSize: 11, verticalAlign: 'super', lineHeight: 0 }}>-1</sup>)</span> : b.t}
        </div>
      ))}
      {SEASONS.map((s, i) => (
        <div key={'s' + i} style={{ position: 'absolute', left: s.x, top: s.y, transform: 'translateY(-50%)', fontWeight: 'bold', fontSize: s.fs, color: '#8a8a8a', lineHeight: 1 }}>{s.t}</div>
      ))}
      {Z_LABELS.map((z, i) => (
        <div key={'z' + i} style={{ position: 'absolute', left: z.x, top: z.y, transform: 'translate(-50%, -50%) rotate(-90deg)', fontSize: 20, color: '#1c1c1c', lineHeight: 1, whiteSpace: 'nowrap' }}>z (m)</div>
      ))}
      {LETTERS.map((l, i) => (
        <div key={'l' + i} style={{ position: 'absolute', left: l.x, top: l.y, transform: 'translateY(-50%)', fontFamily: SERIF, fontWeight: 'bold', fontSize: 22, color: '#000', lineHeight: 1 }}>{l.t}</div>
      ))}
      {MID_LEGEND.map((m, i) => (
        <React.Fragment key={'m' + i}>
          <div style={{ position: 'absolute', left: m.l0, top: 1006, width: m.l1 - m.l0, height: 4, background: m.c }} />
          <div style={{ position: 'absolute', left: m.tx, top: 1008, transform: 'translateY(-50%)', fontSize: 21, color: '#1c1c1c', lineHeight: 1, whiteSpace: 'nowrap' }}>{m.t}</div>
        </React.Fragment>
      ))}
      {BOTTOM_LEGEND.map((b, i) => {
        const st = FRA_STYLES[b.s];
        const len = b.l1 - b.l0;
        return (
          <React.Fragment key={'b' + i}>
            <svg style={{ position: 'absolute', left: b.l0, top: b.y - 8 }} width={len} height={16}>
              <line x1={0} y1={8} x2={len} y2={8} stroke={st.color} strokeWidth={2.5} strokeDasharray={st.dash.length ? st.dash.join(',') : undefined} />
              <Marker ps={st.ps} rot={st.rot} cx={len / 2} cy={8} color={st.color} />
            </svg>
            <div style={{ position: 'absolute', left: b.tx, top: b.y, transform: 'translateY(-50%)', fontSize: 19, color: '#1c1c1c', lineHeight: 1, whiteSpace: 'nowrap' }}>{b.t}</div>
          </React.Fragment>
        );
      })}
    </div>
  );
}
